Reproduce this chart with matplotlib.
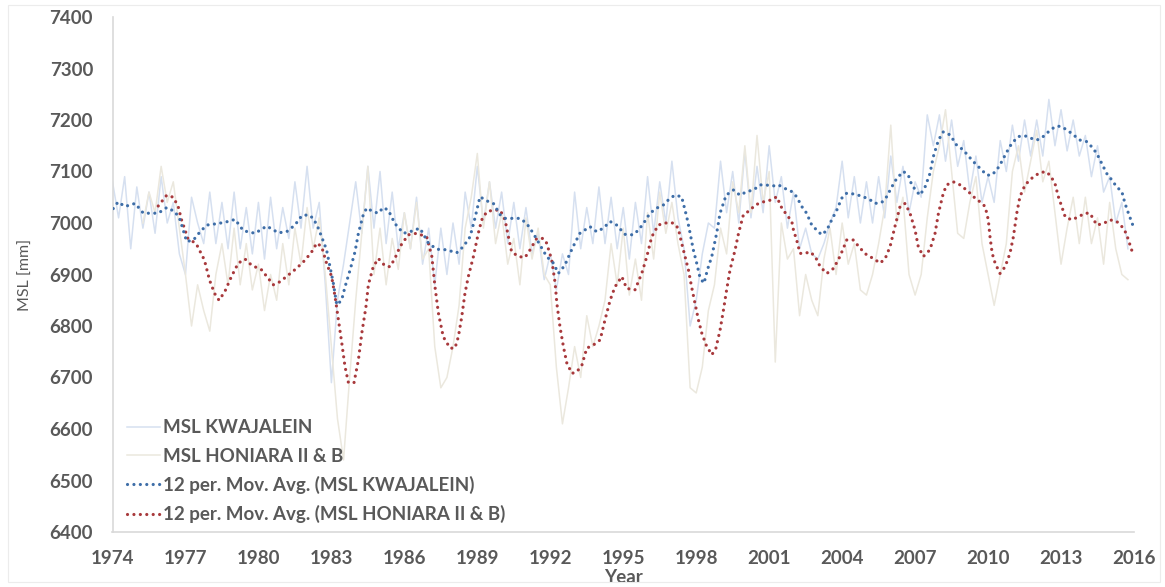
import numpy as np
import matplotlib
matplotlib.use("Agg")
import matplotlib.pyplot as plt
from matplotlib.lines import Line2D
from matplotlib.patches import Rectangle

# ---------------- data ----------------
# quarterly mean sea level readings [mm]
kwaj_start = 1974.0
kwaj_raw = [
    7080, 7010, 7090, 6950,  7070, 6990, 7060, 6980,  7090, 7000, 7040, 6940,
    6900, 7050, 7000, 6960,  7060, 6960, 7040, 6950,  7060, 6950, 7030, 6940,
    7040, 6930, 7050, 6950,  7030, 6970, 7080, 6990,  7110, 6990, 7040, 6880,
    6690, 6850, 6920, 7000,  7080, 6980, 7110, 6990,  7100, 6960, 7060, 6950,
    7020, 6950, 7050, 6920,  6990, 6880, 6990, 6900,  7000, 6920, 7060, 6990,
    7110, 7000, 7080, 6990,  7060, 6960, 7040, 6950,  7030, 6940, 6980, 6890,
    6940, 6870, 6940, 6900,  7060, 6950, 7030, 6960,  7070, 6960, 7050, 6950,
    7030, 6930, 7040, 6960,  7090, 6980, 7080, 7000,  7120, 7010, 6950, 6800,
    6850, 6940, 7000, 6990,  7120, 7020, 7100, 7000,  7140, 7010, 7110, 7020,
    7150, 7040, 7090, 6990,  7060, 6950, 6990, 6940,  6930, 6960, 7000, 7030,
    7120, 7010, 7090, 7000,  7080, 7000, 7090, 7010,  7130, 7040, 7110, 7020,
    7080, 7050, 7210, 7150,  7210, 7120, 7200, 7110,  7160, 7060, 7130, 7040,
    7090, 7040, 7160, 7100,  7190, 7120, 7200, 7130,  7200, 7130, 7240, 7150,
    7220, 7140, 7200, 7130,  7170, 7090, 7150, 7060,  7090, 7000, 7040, 6950,
]

honi_start = 1975.25
honi_raw = [
    7000, 7060, 7020,
    7110, 7040, 7080, 6990,  6900, 6800, 6880, 6830,  6790, 6900, 6960, 6880,
    6990, 6880, 6960, 6870,  6920, 6830, 6900, 6850,  6960, 6880, 6990, 6920,
    7030, 6950, 7010, 6900,  6760, 6620, 6540, 6700,  6850, 6980, 7110, 6900,
    6990, 6880, 6970, 6910,  7020, 6950, 7040, 6930,  6950, 6760, 6680, 6700,
    6760, 6840, 6990, 7050,  7135, 6990, 7080, 6960,  7020, 6920, 6970, 6880,
    7010, 6930, 6990, 6900,  6880, 6720, 6610, 6680,  6760, 6700, 6820, 6760,
    6800, 6850, 6960, 6880,  6990, 6860, 6930, 6850,  7020, 6930, 7060, 6980,
    7040, 6960, 6900, 6680,  6670, 6720, 6830, 6880,  6990, 6940, 7080, 7020,
    7150, 7020, 7170, 7040,  7100, 6730, 7000, 6930,  6950, 6820, 6900, 6850,
    6820, 6930, 6990, 6900,  7000, 6920, 6960, 6870,  6860, 6900, 6960, 7030,
    7190, 7000, 7050, 6900,  6860, 6900, 7010, 7100,  7150, 7220, 7100, 6980,
    6970, 7040, 7090, 6960,  6900, 6840, 6900, 6960,  7100, 7150, 7060, 7120,
    7180, 7080, 7120, 7020,  6920, 6990, 7050, 6960,  7050, 6960, 7010, 6920,
    7040, 6950, 6900, 6890,
]

# 12-period moving averages
ma_kwaj_years = [
    1974.03, 1974.23, 1974.51, 1974.93, 1975.27, 1975.60, 1975.88, 1976.23, 1976.57, 1976.78,
    1977.05, 1977.33, 1977.60, 1977.88, 1978.35, 1978.76, 1979.04, 1979.38, 1979.86, 1980.34,
    1980.82, 1981.16, 1981.50, 1981.78, 1982.05, 1982.26, 1982.46, 1982.60, 1982.80, 1982.94,
    1983.08, 1983.22, 1983.42, 1983.56, 1983.77, 1983.97, 1984.11, 1984.31, 1984.45, 1984.72,
    1984.93, 1985.13, 1985.34, 1985.61, 1985.96, 1986.23, 1986.64, 1986.99, 1987.33, 1987.74,
    1988.15, 1988.42, 1988.70, 1988.90, 1989.11, 1989.39, 1989.66, 1989.94, 1990.14, 1990.42,
    1990.76, 1991.03, 1991.30, 1991.58, 1991.85, 1992.13, 1992.33, 1992.60, 1992.81, 1993.01,
    1993.22, 1993.63, 1993.91, 1994.18, 1994.46, 1994.73, 1995.07, 1995.40, 1995.62, 1995.83,
    1996.10, 1996.38, 1996.65, 1996.92, 1997.13, 1997.40, 1997.61, 1997.75, 1997.88, 1998.02,
    1998.16, 1998.32, 1998.46, 1998.64, 1998.84, 1998.98, 1999.23, 1999.53, 1999.80, 2000.08,
    2000.35, 2000.63, 2000.83, 2001.17, 2001.38, 2001.65, 2001.93, 2002.13, 2002.34, 2002.54,
    2002.75, 2002.96, 2003.16, 2003.37, 2003.57, 2003.78, 2003.98, 2004.19, 2004.53, 2004.87,
    2005.15, 2005.35, 2005.63, 2005.83, 2006.04, 2006.25, 2006.52, 2006.72, 2006.86, 2007.07,
    2007.20, 2007.41, 2007.61, 2007.75, 2007.96, 2008.16, 2008.44, 2008.71, 2008.98, 2009.19,
    2009.46, 2009.74, 2009.95, 2010.15, 2010.36, 2010.56, 2010.77, 2010.98, 2011.25, 2011.53,
    2011.80, 2012.01, 2012.27, 2012.48, 2012.75, 2012.96, 2013.24, 2013.51, 2013.78, 2014.06,
    2014.26, 2014.47, 2014.67, 2014.88, 2015.08, 2015.29, 2015.50, 2015.63, 2015.77, 2015.95,
]
ma_kwaj = [
    7028, 7041, 7032, 7038, 7019, 7019, 7019, 7030, 7022, 7006,
    6964, 6967, 6983, 6996, 6999, 7003, 7007, 6985, 6980, 6994,
    6981, 6983, 6996, 7014, 7016, 7009, 6990, 6973, 6948, 6915,
    6883, 6841, 6850, 6876, 6909, 6944, 6980, 7016, 7029, 7022,
    7019, 7030, 7025, 6999, 6980, 6983, 6990, 6961, 6949, 6948,
    6942, 6954, 6973, 7009, 7051, 7043, 7038, 7016, 7009, 7009,
    7009, 6999, 6980, 6957, 6935, 6922, 6902, 6918, 6941, 6961,
    6980, 6993, 6983, 6990, 7003, 6996, 6978, 6977, 6986, 6999,
    7019, 7029, 7035, 7048, 7054, 7051, 7012, 6980, 6948, 6922,
    6893, 6883, 6909, 6935, 6980, 7019, 7054, 7064, 7054, 7061,
    7064, 7074, 7074, 7072, 7074, 7067, 7061, 7051, 7032, 7019,
    6996, 6986, 6977, 6986, 7006, 7025, 7048, 7058, 7056, 7051,
    7045, 7038, 7040, 7051, 7070, 7087, 7100, 7093, 7074, 7061,
    7054, 7070, 7096, 7129, 7161, 7177, 7171, 7151, 7142, 7130,
    7116, 7103, 7093, 7093, 7103, 7119, 7138, 7155, 7168, 7169,
    7164, 7161, 7168, 7177, 7187, 7188, 7181, 7171, 7161, 7158,
    7148, 7135, 7116, 7096, 7084, 7070, 7061, 7038, 7019, 6996,
]

ma_honi_years = [
    1975.88, 1976.23, 1976.50, 1976.70, 1976.84, 1977.10, 1977.44, 1977.78, 1977.99, 1978.20,
    1978.38, 1978.62, 1978.89, 1979.17, 1979.45, 1979.72, 1980.13, 1980.61, 1980.89, 1981.23,
    1981.57, 1981.92, 1982.19, 1982.40, 1982.60, 1982.80, 1983.01, 1983.15, 1983.29, 1983.43,
    1983.56, 1983.70, 1983.93, 1984.11, 1984.25, 1984.42, 1984.52, 1984.72, 1984.93, 1985.20,
    1985.41, 1985.61, 1985.82, 1986.16, 1986.51, 1986.92, 1987.13, 1987.26, 1987.40, 1987.60,
    1987.88, 1988.08, 1988.22, 1988.36, 1988.49, 1988.63, 1988.84, 1989.04, 1989.18, 1989.39,
    1989.66, 1989.94, 1990.14, 1990.28, 1990.41, 1990.69, 1990.96, 1991.17, 1991.44, 1991.72,
    1991.85, 1992.06, 1992.20, 1992.27, 1992.40, 1992.54, 1992.68, 1992.89, 1993.09, 1993.30,
    1993.50, 1993.77, 1994.05, 1994.25, 1994.46, 1994.66, 1994.94, 1995.14, 1995.48, 1995.76,
    1995.97, 1996.17, 1996.44, 1996.72, 1997.06, 1997.26, 1997.40, 1997.54, 1997.68, 1997.81,
    1997.95, 1998.09, 1998.23, 1998.41, 1998.64, 1998.81, 1998.98, 1999.12, 1999.25, 1999.39,
    1999.60, 1999.74, 1999.94, 2000.22, 2000.42, 2000.76, 2001.10, 2001.31, 2001.52, 2001.72,
    2001.93, 2002.00, 2002.13, 2002.27, 2002.47, 2002.68, 2002.89, 2003.10, 2003.37, 2003.65,
    2003.91, 2004.19, 2004.46, 2004.74, 2005.01, 2005.29, 2005.56, 2005.77, 2005.97, 2006.17,
    2006.38, 2006.59, 2006.79, 2007.00, 2007.13, 2007.34, 2007.61, 2007.82, 2007.96, 2008.16,
    2008.30, 2008.57, 2008.85, 2009.19, 2009.40, 2009.67, 2009.88, 2010.01, 2010.08, 2010.17,
    2010.29, 2010.49, 2010.70, 2010.90, 2011.04, 2011.18, 2011.31, 2011.52, 2011.80, 2012.07,
    2012.35, 2012.55, 2012.75, 2012.89, 2013.03, 2013.17, 2013.44, 2013.71, 2013.99, 2014.19,
    2014.47, 2014.74, 2015.02, 2015.29, 2015.50, 2015.68, 2015.81, 2015.95,
]
ma_honi = [
    7033, 7054, 7050, 7032, 7006, 6970, 6960, 6928, 6889, 6863,
    6850, 6867, 6896, 6922, 6930, 6918, 6909, 6880, 6886, 6899,
    6912, 6928, 6944, 6961, 6954, 6922, 6896, 6857, 6812, 6766,
    6721, 6690, 6690, 6734, 6786, 6837, 6880, 6915, 6931, 6917,
    6915, 6931, 6954, 6977, 6980, 6973, 6935, 6876, 6825, 6779,
    6757, 6757, 6779, 6818, 6863, 6896, 6935, 6980, 7006, 7022,
    7025, 7025, 7006, 6973, 6944, 6935, 6933, 6948, 6970, 6970,
    6961, 6928, 6883, 6844, 6798, 6760, 6728, 6708, 6711, 6724,
    6757, 6763, 6773, 6812, 6850, 6876, 6896, 6873, 6870, 6902,
    6935, 6973, 6996, 7000, 7000, 6990, 6961, 6935, 6909, 6876,
    6844, 6812, 6786, 6763, 6744, 6757, 6792, 6831, 6870, 6909,
    6948, 6980, 7016, 7025, 7035, 7041, 7045, 7051, 7029, 7016,
    7003, 6986, 6967, 6941, 6941, 6944, 6935, 6915, 6902, 6912,
    6935, 6967, 6967, 6951, 6938, 6931, 6922, 6931, 6954, 6993,
    7032, 7038, 7019, 6986, 6954, 6935, 6948, 6980, 7019, 7058,
    7074, 7080, 7074, 7061, 7051, 7041, 7032, 7006, 6973, 6941,
    6922, 6902, 6915, 6941, 6973, 7019, 7051, 7074, 7087, 7096,
    7100, 7093, 7077, 7051, 7032, 7012, 7006, 7012, 7019, 7019,
    6996, 6999, 7006, 7003, 6993, 6980, 6961, 6941,
]

year_ticks = list(range(1974, 2017, 3))
msl_ticks = list(range(6400, 7401, 100))

labels = [
    "MSL KWAJALEIN",
    "MSL HONIARA II & B",
    "12 per. Mov. Avg. (MSL KWAJALEIN)",
    "12 per. Mov. Avg. (MSL HONIARA II & B)",
]

# ---------------- style ----------------
TXT = "#595959"
AXC = "#d9d9d9"
C_KW_RAW = "#d6e0f0"
C_HO_RAW = "#ebe8de"
C_KW_MA = "#3e6ea8"
C_HO_MA = "#a8393c"
FONT = "Lato"
FS = 13.5

plt.rcParams["font.family"] = [FONT, "DejaVu Sans"]

fig = plt.figure(figsize=(11.65, 5.87), dpi=100)
fig.patch.set_facecolor("white")
ax = fig.add_axes([112.5 / 1165, 1 - 532 / 587, (1134 - 112.5) / 1165, (532 - 17) / 587])

# faint chart-area border
fig.patches.append(Rectangle((8 / 1165, 5 / 587), (1160 - 8) / 1165, (582 - 5) / 587,
                             transform=fig.transFigure, fill=False,
                             edgecolor="#ececec", linewidth=0.8, zorder=0))

kx = kwaj_start + 0.25 * np.arange(len(kwaj_raw))
hx = honi_start + 0.25 * np.arange(len(honi_raw))

ax.plot(kx, kwaj_raw, color=C_KW_RAW, lw=1.1, zorder=2)
ax.plot(hx, honi_raw, color=C_HO_RAW, lw=1.1, zorder=2)

dot = (0, (0.01, 2.0))
ax.plot(ma_kwaj_years, ma_kwaj, color=C_KW_MA, lw=2.3, linestyle=dot,
        dash_capstyle="round", zorder=4)
ax.plot(ma_honi_years, ma_honi, color=C_HO_MA, lw=2.3, linestyle=dot,
        dash_capstyle="round", zorder=3)

ax.set_xlim(1974, 2016)
ax.set_ylim(6400, 7400)
ax.set_xticks(year_ticks)
ax.set_yticks(msl_ticks)
ax.tick_params(length=0, labelsize=FS, labelcolor=TXT)
ax.tick_params(axis="y", pad=14)
ax.tick_params(axis="x", pad=13)
for lab in ax.get_xticklabels() + ax.get_yticklabels():
    lab.set_fontweight("bold")

for side in ("top", "right"):
    ax.spines[side].set_visible(False)
for side in ("left", "bottom"):
    ax.spines[side].set_color(AXC)
    ax.spines[side].set_linewidth(1.2)

ax.set_ylabel("MSL [mm]", fontsize=11.5, color=TXT, labelpad=12)
ax.set_xlabel("Year", fontsize=FS, color=TXT, fontweight="bold", labelpad=1.5)

handles = [
    Line2D([], [], color=C_KW_RAW, lw=1.1),
    Line2D([], [], color=C_HO_RAW, lw=1.1),
    Line2D([], [], color=C_KW_MA, lw=2.3, linestyle=dot, dash_capstyle="round"),
    Line2D([], [], color=C_HO_MA, lw=2.3, linestyle=dot, dash_capstyle="round"),
]
leg = ax.legend(handles, labels, loc="lower left", bbox_to_anchor=(0.012, 0.013),
                frameon=False, fontsize=FS, handlelength=1.76, handletextpad=0.16,
                labelspacing=0.6, borderpad=0.1, borderaxespad=0)
leg.set_zorder(5)
for t in leg.get_texts():
    t.set_color(TXT)
    t.set_fontweight("bold")

fig.savefig("out.png", dpi=100, facecolor="white")
